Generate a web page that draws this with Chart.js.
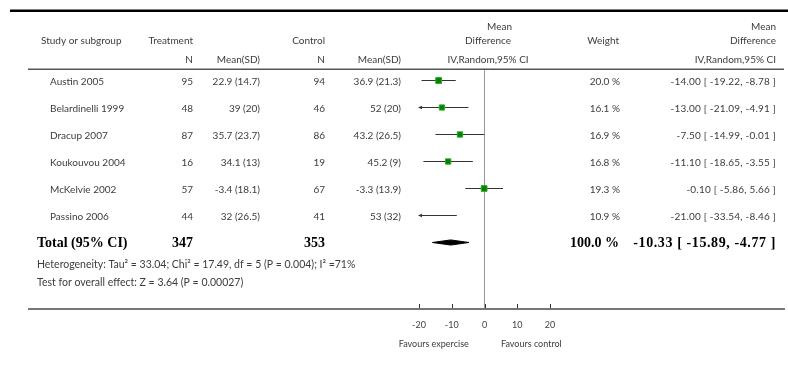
<!DOCTYPE html>
<html>
<head>
<meta charset="utf-8">
<script src="https://cdn.jsdelivr.net/npm/chart.js@4.4.0/dist/chart.umd.min.js"></script>
<style>
  html, body { margin: 0; padding: 0; background: #fff; }
  #wrap { width: 788px; height: 377px; }
</style>
</head>
<body>
<div id="wrap"><canvas id="forest" width="788" height="377"></canvas></div>
<script>
// Daten der Studien
const studies = ["Austin 2005", "Belardinelli 1999", "Dracup 2007", "Koukouvou 2004", "McKelvie 2002", "Passino 2006"];
const trtN = [95, 48, 87, 16, 57, 44];
const trtMean = [22.9, 39, 35.7, 34.1, -3.4, 32];
const trtSD = [14.7, 20, 23.7, 13, 18.1, 26.5];
const ctlN = [94, 46, 86, 19, 67, 41];
const ctlMean = [36.9, 52, 43.2, 45.2, -3.3, 53];
const ctlSD = [21.3, 20, 26.5, 9, 13.9, 32];
const weights = [20.0, 16.1, 16.9, 16.8, 19.3, 10.9];
const md = [-14.00, -13.00, -7.50, -11.10, -0.10, -21.00];
const ciLow = [-19.22, -21.09, -14.99, -18.65, -5.86, -33.54];
const ciHigh = [-8.78, -4.91, -0.01, -3.55, 5.66, -8.46];

const totalTrt = 347;
const totalCtl = 353;
const totalWeight = 100.0;
const pooled = [-10.33, -15.89, -4.77]; // estimate, low, high

const xTicks = [-20, -10, 0, 10, 20];
const heterogeneity = "Heterogeneity: Tau\u00b2 = 33.04; Chi\u00b2 = 17.49, df = 5 (P = 0.004); I\u00b2 =71%";
const overallTest = "Test for overall effect: Z = 3.64 (P = 0.00027)";
const favoursLeft = "Favours expercise";
const favoursRight = "Favours control";

const SANS = "Lato, 'Open Sans', sans-serif";
const SERIF = "'Liberation Serif', 'DejaVu Serif', serif";
const TXT = "#3c3c3c";
const totalRow = studies.length;

function ci(a, b, c) {
    return a.toFixed(2) + " [ " + b.toFixed(2) + ", " + c.toFixed(2) + " ]";
}

// Linien für die Konfidenzintervalle
const ciSets = studies.map((s, i) => ({
    data: [{x: ciLow[i], y: i}, {x: ciHigh[i], y: i}],
    showLine: true,
    borderColor: "#333",
    borderWidth: 1,
    pointRadius: 0,
    clip: 0,
    order: 2
}));

const dh = 0.095;
const diamond = {
    data: [
        {x: pooled[1], y: totalRow},
        {x: pooled[0], y: totalRow - dh},
        {x: pooled[2], y: totalRow},
        {x: pooled[0], y: totalRow + dh},
        {x: pooled[1], y: totalRow}
    ],
    showLine: true,
    fill: "shape",
    backgroundColor: "#000",
    borderColor: "#000",
    borderWidth: 1,
    pointRadius: 0,
    clip: 0,
    order: 1
};

const markers = {
    data: md.map((v, i) => ({x: v, y: i})),
    pointStyle: "rect",
    pointRadius: weights.map(w => 4.1 * Math.sqrt(w / 20)),
    backgroundColor: "#0a7d0a",
    borderColor: "#1fb01f",
    borderWidth: 1,
    clip: 0,
    order: 0
};

const zeroLine = {
    data: [{x: 0, y: -0.426}, {x: 0, y: 8.463}],
    showLine: true,
    borderColor: "#999",
    borderWidth: 1,
    pointRadius: 0,
    order: 3
};

// Tabelle und Beschriftung
const tablePlugin = {
    id: "tablePlugin",
    afterDraw(chart) {
        const c = chart.ctx;
        const xs = chart.scales.x, ys = chart.scales.y;
        const t = (s, x, y, align, font, color, ls) => {
            c.save();
            c.font = font;
            c.fillStyle = color || TXT;
            c.textAlign = align;
            c.textBaseline = "middle";
            c.letterSpacing = (ls || 0) + "px";
            c.fillText(s, x, y);
            c.restore();
        };
        const f = "10px " + SANS;

        // Rahmenlinien
        c.save();
        c.fillStyle = "#000";
        c.fillRect(10, 9.5, 778, 2.5);
        c.fillStyle = "#555";
        c.fillRect(28, 68.5, 756, 1.5);
        c.fillStyle = "#777";
        c.fillRect(28, 308, 757, 2);
        c.restore();

        // Kopfzeilen
        t("Study or subgroup", 41, 41, "left", f);
        t("Treatment", 193, 41, "right", f);
        t("Control", 325, 41, "right", f);
        t("N", 193, 60, "right", f);
        t("Mean(SD)", 260, 60, "right", f);
        t("N", 325, 60, "right", f);
        t("Mean(SD)", 401, 60, "right", f);
        t("Mean", 512, 27, "right", f);
        t("Difference", 511, 41, "right", f);
        t("IV,Random,95% CI", 488, 60, "center", f);
        t("Weight", 619, 41, "right", f);
        t("Mean", 776, 27, "right", f);
        t("Difference", 776, 41, "right", f);
        t("IV,Random,95% CI", 776, 60, "right", f);

        // Studienzeilen
        studies.forEach((s, i) => {
            const y = ys.getPixelForValue(i) + 1;
            t(s, 50, y, "left", f);
            t(String(trtN[i]), 193, y, "right", f);
            t(trtMean[i] + " (" + trtSD[i] + ")", 260, y, "right", f);
            t(String(ctlN[i]), 325, y, "right", f);
            t(ctlMean[i] + " (" + ctlSD[i] + ")", 401, y, "right", f);
            t(weights[i].toFixed(1) + " %", 620, y, "right", f);
            t(ci(md[i], ciLow[i], ciHigh[i]), 776, y, "right", f, null, 0.2);

            // Pfeil, wenn das Intervall die Achse verlässt
            if (ciLow[i] < xs.min) {
                const px = xs.getPixelForValue(xs.min);
                const py = ys.getPixelForValue(i);
                c.save();
                c.fillStyle = "#333";
                c.beginPath();
                c.moveTo(px - 1, py);
                c.lineTo(px + 3, py - 1.8);
                c.lineTo(px + 3, py + 1.8);
                c.closePath();
                c.fill();
                c.restore();
            }
        });

        // Gesamtzeile
        const yt = ys.getPixelForValue(totalRow) + 1;
        const fb = "bold 14px " + SERIF;
        t("Total (95% CI)", 37, yt, "left", fb, "#000");
        t(String(totalTrt), 193, yt, "right", fb, "#000");
        t(String(totalCtl), 325, yt, "right", fb, "#000");
        t(totalWeight.toFixed(1) + " %", 619, yt, "right", fb, "#000");
        t(ci(pooled[0], pooled[1], pooled[2]), 776, yt, "right", fb, "#000", 0.6);

        t(heterogeneity, 37, 265, "left", "10.5px " + SANS);
        t(overallTest, 37, 283, "left", "10.5px " + SANS);

        // Teilstriche
        c.save();
        c.strokeStyle = "#333";
        c.lineWidth = 1;
        xTicks.forEach(v => {
            const px = Math.round(xs.getPixelForValue(v)) + 0.5;
            c.beginPath();
            c.moveTo(px, 304);
            c.lineTo(px, 308);
            c.stroke();
        });
        c.restore();

        t(favoursLeft, xs.getPixelForValue(-15.5), 344, "center", "9px " + SANS);
        t(favoursRight, xs.getPixelForValue(14.3), 344, "center", "9px " + SANS);
    }
};

new Chart(document.getElementById("forest"), {
    type: "scatter",
    data: { datasets: [zeroLine, ...ciSets, diamond, markers] },
    options: {
        responsive: false,
        animation: false,
        layout: { padding: { left: 419, right: 238, top: 69, bottom: 42 } },
        plugins: { legend: { display: false }, tooltip: { enabled: false } },
        scales: {
            x: {
                type: "linear",
                min: -20,
                max: 20,
                afterBuildTicks(scale) { scale.ticks = xTicks.map(v => ({value: v})); },
                afterFit(scale) { scale.height = 26; },
                grid: { display: false, drawTicks: false },
                border: { display: false },
                ticks: { font: { size: 9, family: SANS }, color: "#444", padding: 11, maxRotation: 0 }
            },
            y: {
                display: false,
                reverse: true,
                min: -0.426,
                max: 8.463
            }
        }
    },
    plugins: [tablePlugin]
});
</script>
</body>
</html>
